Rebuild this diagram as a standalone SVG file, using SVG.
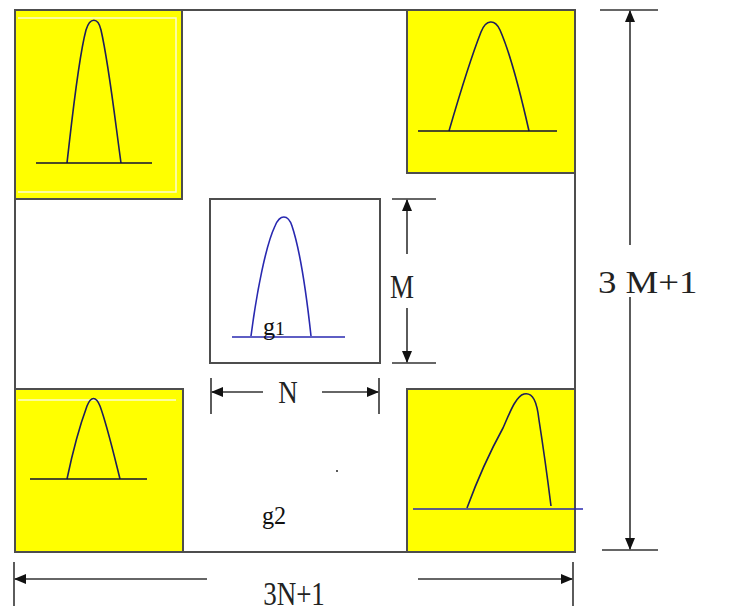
<svg xmlns="http://www.w3.org/2000/svg" width="734" height="612" viewBox="0 0 734 612">
<defs>
<style>
.frame{fill:none;stroke:#4d4d4d;stroke-width:2}
.yel{fill:#ffff00;stroke:#4d4d4d;stroke-width:2}
.inner{fill:none;stroke:#fbfbd0;stroke-width:1.5}
.curve{fill:none;stroke:#1e1e5a;stroke-width:1.6}
.curveb{fill:none;stroke:#2828b0;stroke-width:1.6}
.base{stroke:#111133;stroke-width:1.6}
.baseb{stroke:#2828b0;stroke-width:1.6}
.dim{stroke:#333;stroke-width:1.6;fill:none}
.lbl{font-family:"Liberation Serif","Times New Roman",serif;fill:#222;font-size:27px}
.big{font-size:32px}
.sub{font-family:"Liberation Serif","Times New Roman",serif;fill:#111;font-size:22px}
</style>
<marker id="ah" viewBox="0 0 12 10" refX="11" refY="5" markerWidth="12" markerHeight="10" markerUnits="userSpaceOnUse" orient="auto">
<path d="M0,0 L12,5 L0,10 Z" fill="#111"/>
</marker>
</defs>
<rect width="734" height="612" fill="#ffffff"/>

<g id="outer">
<path class="frame" d="M15,10 H575 V552 H15 Z"/>
</g>

<g id="tl">
<rect class="yel" x="15" y="10" width="167" height="189"/>
<path class="inner" d="M18,18 H176 V192 H18"/>
<path class="curve" d="M67,163 C72,120 78,60 86,30 C90,17 98,17 101,30 C109,65 115,120 121,163"/>
<line class="base" x1="36" y1="163" x2="152" y2="163"/>
</g>

<g id="tr">
<rect class="yel" x="407" y="10" width="168" height="163"/>
<path class="curve" d="M449,131 C458,100 470,60 481,32 C486,19 495,19 500,30 C511,55 522,100 529,131"/>
<line class="base" x1="418" y1="131" x2="557" y2="131"/>
</g>

<g id="bl">
<rect class="yel" x="15" y="389" width="168" height="163"/>
<path class="inner" d="M18,400 H176"/>
<path class="curve" d="M67,479 C72,455 80,425 87,406 C91,396 96,396 100,406 C107,425 114,455 120,479"/>
<line class="base" x1="30" y1="479" x2="147" y2="479"/>
</g>

<g id="br">
<rect class="yel" x="407" y="389" width="168" height="163"/>
<path class="curve" d="M467,508 C478,478 492,448 503,428 C510,412 516,396 524,394 C533,392 537,402 539,420 C544,452 548,482 551,506"/>
<line class="baseb" x1="413" y1="509" x2="583" y2="509"/>
</g>

<g id="center">
<rect x="210" y="199" width="170" height="164" fill="#ffffff" stroke="#4d4d4d" stroke-width="2"/>
<path class="curveb" d="M251,336 C257,290 266,245 275,226 C280,214 288,214 292,226 C300,250 306,290 311,336"/>
<line class="baseb" x1="232" y1="337" x2="345" y2="337"/>
<text class="sub" transform="translate(263,335) scale(1.1,1.1)">g<tspan style="font-size:18px">1</tspan></text>
</g>

<g id="g2label">
<text class="sub" transform="translate(262,524) scale(1.1,1.1)">g2</text>
<circle cx="337" cy="471" r="1" fill="#222"/>
</g>

<g id="connectors">
<line class="dim" x1="392" y1="199" x2="436" y2="199"/>
<line class="dim" x1="392" y1="363" x2="436" y2="363"/>
<line class="dim" x1="407" y1="254" x2="407" y2="200" marker-end="url(#ah)"/>
<line class="dim" x1="407" y1="308" x2="407" y2="362" marker-end="url(#ah)"/>
<line class="dim" x1="211" y1="378" x2="211" y2="414"/>
<line class="dim" x1="379" y1="378" x2="379" y2="414"/>
<line class="dim" x1="263" y1="392" x2="212" y2="392" marker-end="url(#ah)"/>
<line class="dim" x1="322" y1="392" x2="378" y2="392" marker-end="url(#ah)"/>
<line class="dim" x1="600" y1="10" x2="658" y2="10"/>
<line class="dim" x1="602" y1="550" x2="658" y2="550"/>
<line class="dim" x1="630" y1="245" x2="630" y2="11" marker-end="url(#ah)"/>
<line class="dim" x1="630" y1="297" x2="630" y2="549" marker-end="url(#ah)"/>
<line class="dim" x1="14" y1="562" x2="14" y2="606"/>
<line class="dim" x1="573" y1="562" x2="573" y2="606"/>
<line class="dim" x1="207" y1="579" x2="15" y2="579" marker-end="url(#ah)"/>
<line class="dim" x1="418" y1="579" x2="572" y2="579" marker-end="url(#ah)"/>
</g>

<g id="labels">
<text class="lbl" transform="translate(402,298) scale(1,1.25)" text-anchor="middle">M</text>
<text class="lbl" transform="translate(288,403) scale(1,1.2)" text-anchor="middle">N</text>
<text class="lbl big" transform="translate(598,293) scale(1.15,1)">3 M+1</text>
<text class="lbl" transform="translate(294,605) scale(1,1.25)" text-anchor="middle">3N+1</text>
</g>
</svg>
